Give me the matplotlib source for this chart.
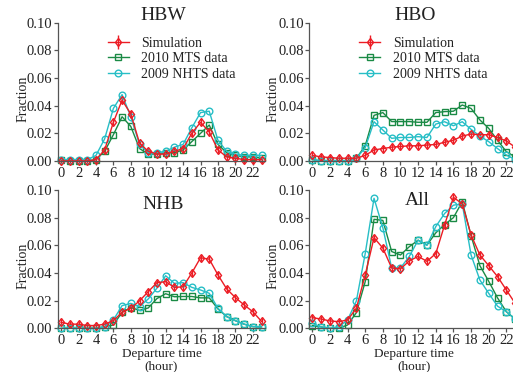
import numpy as np
import matplotlib
matplotlib.use('Agg')
import matplotlib.pyplot as plt

plt.rcParams['font.family'] = ['Liberation Serif', 'DejaVu Serif']

hours = np.arange(24)

# HBW
hbw_sim = [0.000, 0.000, 0.000, 0.000, 0.001, 0.008, 0.028, 0.044, 0.034, 0.013, 0.007, 0.005,
           0.005, 0.007, 0.009, 0.020, 0.028, 0.021, 0.008, 0.003, 0.002, 0.001, 0.001, 0.001]
hbw_mts = [0.001, 0.000, 0.000, 0.000, 0.001, 0.007, 0.019, 0.032, 0.025, 0.009, 0.005, 0.005,
           0.006, 0.006, 0.008, 0.014, 0.020, 0.026, 0.012, 0.006, 0.004, 0.003, 0.003, 0.002]
hbw_nhts = [0.001, 0.001, 0.001, 0.001, 0.004, 0.016, 0.038, 0.048, 0.032, 0.012, 0.006, 0.006,
            0.007, 0.010, 0.012, 0.024, 0.035, 0.036, 0.015, 0.007, 0.005, 0.004, 0.004, 0.004]

# HBO
hbo_sim = [0.004, 0.003, 0.0025, 0.002, 0.002, 0.002, 0.004, 0.008, 0.009, 0.010, 0.0105, 0.011,
           0.011, 0.0115, 0.012, 0.0135, 0.015, 0.018, 0.0195, 0.019, 0.019, 0.017, 0.0145, 0.010]
hbo_mts = [0.001, 0.000, 0.000, 0.000, 0.000, 0.002, 0.011, 0.033, 0.035, 0.0285, 0.0285, 0.0285,
           0.028, 0.028, 0.035, 0.0357, 0.036, 0.0405, 0.038, 0.0297, 0.0236, 0.015, 0.0067, 0.003]
hbo_nhts = [0.001, 0.000, 0.000, 0.000, 0.000, 0.002, 0.0096, 0.0284, 0.0224, 0.0164, 0.017, 0.017,
            0.0176, 0.017, 0.0267, 0.0284, 0.0255, 0.0284, 0.0229, 0.018, 0.014, 0.009, 0.0043, 0.001]

# NHB
nhb_sim = [0.0043, 0.003, 0.003, 0.002, 0.002, 0.003, 0.0055, 0.0116, 0.0145, 0.0198, 0.0265, 0.033,
           0.0337, 0.0296, 0.030, 0.040, 0.051, 0.050, 0.0386, 0.0285, 0.0222, 0.0169, 0.012, 0.005]
nhb_mts = [0.000, 0.000, 0.000, 0.000, 0.000, 0.001, 0.0024, 0.0116, 0.015, 0.013, 0.0147, 0.0215,
           0.025, 0.0228, 0.023, 0.023, 0.022, 0.022, 0.014, 0.0085, 0.0055, 0.003, 0.0012, 0.001]
nhb_nhts = [0.000, 0.000, 0.000, 0.000, 0.000, 0.001, 0.006, 0.0164, 0.018, 0.0157, 0.0212, 0.029,
            0.038, 0.0325, 0.033, 0.0296, 0.0277, 0.0253, 0.0145, 0.0084, 0.0055, 0.003, 0.0012, 0.001]

# All
all_sim = [0.0077, 0.0067, 0.0053, 0.0048, 0.006, 0.0145, 0.0386, 0.0655, 0.058, 0.0436, 0.043, 0.0487,
           0.052, 0.0484, 0.054, 0.0747, 0.0947, 0.090, 0.0675, 0.053, 0.0453, 0.0374, 0.0277, 0.018]
all_mts = [0.002, 0.001, 0.000, 0.000, 0.0024, 0.0113, 0.0337, 0.0788, 0.078, 0.0555, 0.053, 0.059,
           0.0637, 0.0602, 0.069, 0.075, 0.080, 0.0915, 0.067, 0.0453, 0.034, 0.022, 0.012, 0.0066]
all_nhts = [0.0036, 0.001, 0.000, 0.001, 0.006, 0.0198, 0.054, 0.094, 0.0727, 0.0436, 0.0436, 0.052,
            0.0637, 0.060, 0.0735, 0.083, 0.089, 0.090, 0.053, 0.0349, 0.0253, 0.016, 0.012, 0.0066]

labels = ['Simulation', '2010 MTS data', '2009 NHTS data']
red = '#ec1c24'
green = '#1a8a45'
cyan = '#27bec6'
txt = '#222222'

fig = plt.figure(figsize=(5.13, 3.72), dpi=100)

panels = [
    ('HBW', hbw_sim, hbw_mts, hbw_nhts, [0.1131, 0.5672, 0.4035, 0.3718], (0.507, 1.055), True, False),
    ('HBO', hbo_sim, hbo_mts, hbo_nhts, [0.6027, 0.5672, 0.4084, 0.3718], (0.506, 1.055), True, False),
    ('NHB', nhb_sim, nhb_mts, nhb_nhts, [0.1131, 0.1175, 0.4035, 0.3718], (0.51, 0.895), False, True),
    ('All', all_sim, all_mts, all_nhts, [0.6027, 0.1175, 0.4084, 0.3718], (0.515, 0.925), False, True),
]

for name, sim, mts, nhts, pos, tpos, leg, xlab in panels:
    ax = fig.add_axes(pos)
    h_sim = ax.errorbar(hours, sim, yerr=0.0022, color=red, lw=1.0, marker='d', ms=4.5,
                        mfc='none', mec=red, mew=1.0, elinewidth=1.0, capsize=0,
                        label=labels[0], clip_on=False)
    h_mts, = ax.plot(hours, mts, color=green, lw=1.0, marker='s', ms=4.5, mfc='none', mew=1.0,
                     label=labels[1], clip_on=False)
    h_nhts, = ax.plot(hours, nhts, color=cyan, lw=1.0, marker='o', ms=4.8, mfc='none', mew=1.0,
                      label=labels[2], clip_on=False)
    ax.set_xlim(-0.35, 23.4)
    ax.set_ylim(0, 0.1)
    ax.set_xticks(range(0, 23, 2))
    ax.set_yticks([0, 0.02, 0.04, 0.06, 0.08, 0.10])
    ax.set_yticklabels(['0.00', '0.02', '0.04', '0.06', '0.08', '0.10'])
    for s in ['top', 'right']:
        ax.spines[s].set_visible(False)
    for s in ['left', 'bottom']:
        ax.spines[s].set_color('#555555')
        ax.spines[s].set_linewidth(0.9)
    ax.tick_params(direction='out', length=3, width=0.9, pad=1, labelsize=10.5,
                   colors='#555555', labelcolor=txt)
    ax.set_ylabel('Fraction', fontsize=10, color=txt, labelpad=3)
    ax.yaxis.set_label_coords(-0.14, 0.45)
    ax.text(tpos[0], tpos[1], name, transform=ax.transAxes, ha='center', va='center',
            fontsize=14, color=txt)
    if leg:
        ax.legend([h_sim, h_mts, h_nhts], labels, loc='upper left', bbox_to_anchor=(0.24, 0.90),
                  frameon=False, fontsize=10, borderpad=0, borderaxespad=0, handlelength=1.5,
                  handletextpad=0.9, labelspacing=0.2, labelcolor=txt)
    if xlab:
        ax.set_xlabel('Departure time\n(hour)', fontsize=9.5, color=txt, labelpad=1,
                      linespacing=1.0)

fig.savefig('out.png', dpi=100)
